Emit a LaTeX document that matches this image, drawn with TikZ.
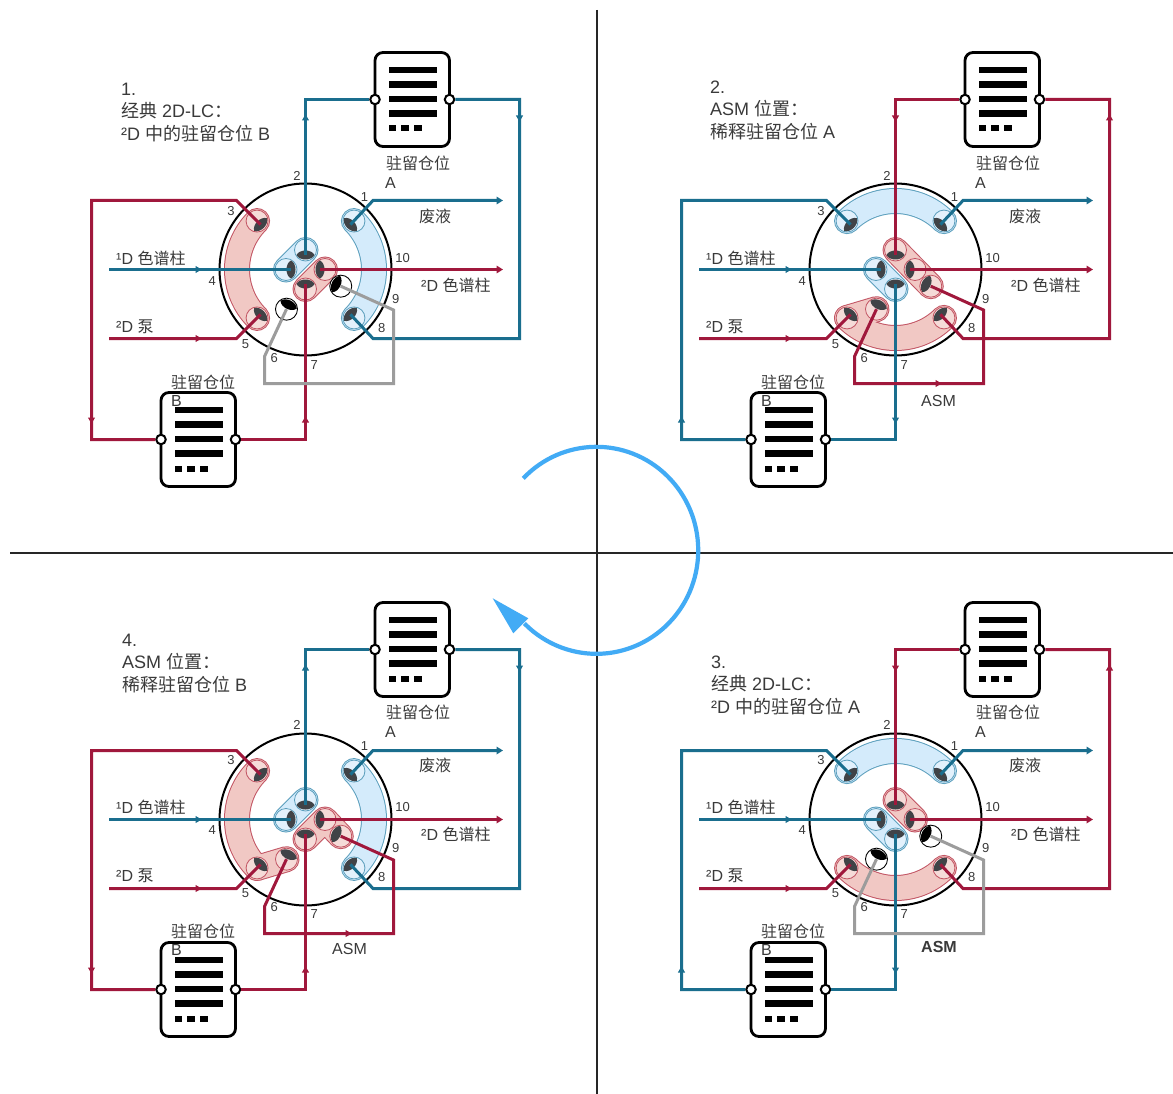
\documentclass[tikz,border=0pt]{standalone}
\usepackage{fontspec}
\setmainfont{Liberation Sans}
\newfontfamily\cjk{Noto Sans CJK SC}
\usetikzlibrary{arrows.meta}
\definecolor{pblue}{HTML}{1A6E8E}
\definecolor{pred}{HTML}{A0183C}
\definecolor{bfill}{HTML}{D4EBFB}
\definecolor{bedge}{HTML}{5C9FBD}
\definecolor{rfill}{HTML}{F1C8C4}
\definecolor{redge}{HTML}{C25463}
\definecolor{lensc}{HTML}{404347}
\definecolor{pgray}{HTML}{9C9C9C}
\definecolor{txt}{HTML}{3A3A3A}
\definecolor{bigarrow}{HTML}{42ABF5}
\newcommand\zh[1]{{\cjk #1}}
\tikzset{
  pipe/.style={line width=3,line join=miter},
  pipeend/.style={pipe,-{Triangle[length=6.5pt,width=7.5pt]}},
  lab/.style={font=\fontsize{16}{19}\selectfont,text=txt,inner sep=0pt,anchor=west},
  num/.style={font=\fontsize{13}{15}\selectfont,text=txt,inner sep=0pt},
  title/.style={font=\fontsize{18}{22.5}\selectfont,text=txt,inner sep=0pt,anchor=north west,align=left},
  colbody/.style={draw=black,line width=2.8,rounded corners=8pt,minimum width=74.5pt,minimum height=94pt,inner sep=0pt,outer sep=0pt},
  colport/.style={circle,draw=black,fill=white,line width=2,minimum size=9.5pt,inner sep=0pt},
  axis/.style={line width=1.6,draw=black!85},
}
% groove helpers: edge pass and fill pass are separate, so that joined grooves read as one shape
\newcommand\arcpass[4]{\draw[#1,line width=#2,line cap=round] (c) ++(#3:68.5) arc[start angle=#3,end angle=#4,radius=68.5];}
\newcommand\slotpass[3]{\draw[#1,line width=#2,line cap=round,line join=round] #3;}
\newcommand\arcgroove[4]{\arcpass{#2}{26}{#3}{#4}\arcpass{#1}{24}{#3}{#4}}
\newcommand\slot[3]{\slotpass{#2}{26}{#3}\slotpass{#1}{24}{#3}}
\newcommand\lensat[3]{\fill[#3,shift={(L#1)},rotate={90-(#2)}] (-9,0) .. controls (-6,6) and (6,6) .. (9,0) .. controls (6,-6) and (-6,-6) .. cycle;}
\newcommand\portset[1]{\foreach \n/\k in {#1}{
  \edef\ang{\csname pang\n\endcsname}
  \node[circle,draw=\k,fill=white,fill opacity=.35,draw opacity=1,line width=0.8,minimum size=22pt,inner sep=0pt] (R\n) at (P\n) {};
  \lensat{\n}{\ang}{lensc}}}
\newcommand\portfree{\foreach \n in {6,9}{
  \edef\ang{\csname pang\n\endcsname}
  \node[circle,draw=black,fill=white,line width=0.9,minimum size=22pt,inner sep=0pt] (R\n) at (P\n) {};
  \lensat{\n}{\ang}{black}}}
\newcommand\mk[4]{\fill[#1,shift={(#2,#3)},rotate=#4] (-2.5,-3.6)--(3.8,0)--(-2.5,3.6)--cycle;}
\newcommand\colbox[3]{% name, left, top
  \node[colbody] (#1) at (#2+37.25,#3+47) {};
  \foreach \yy in {17.7,32,46.7,61}{\fill[black] (#2+13.5,#3+\yy-3.2) rectangle (#2+61.5,#3+\yy+3.2);}
  \foreach \xx in {13.5,26,39}{\fill[black] (#2+\xx,#3+73) rectangle (#2+\xx+7.5,#3+79);}
  \node[colport] (#1l) at (#1.west) {};
  \node[colport] (#1r) at (#1.east) {};}
\newcommand\valvecoords{%
  \coordinate (c) at (305.5,269.5);
  \foreach \n/\r/\a in {1/68.5/-45,3/68.5/225,5/68.5/135,8/68.5/45,2/19.5/-90,4/19.5/180,10/19.5/0,7/19.5/90,6/44/115.6,9/39/25.3}{
    \expandafter\xdef\csname pang\n\endcsname{\a}
    \coordinate (P\n) at ([shift={(\a:\r)}]c);
    \coordinate (L\n) at ([shift={({\a}:{\r-5})}]c);
  }
  \draw[black,line width=2] (c) circle[radius=86];
  \coordinate (b8a) at (519.5,338.5);
  \coordinate (b8b) at (373,338.5);
  \coordinate (b1a) at (373,200.5);
  \coordinate (wst) at (503,200.5);
  \coordinate (b3a) at (236.5,200.5);
  \coordinate (b3b) at (91.5,200.5);
  \coordinate (b3c) at (91.5,439.5);
  \coordinate (d1s) at (109,269.5);
  \coordinate (d2e) at (503,269.5);
  \coordinate (pu1) at (109,338.5);
  \coordinate (pu2) at (236.5,338.5);
  \coordinate (as1) at (264.5,356.5);
  \coordinate (as2) at (264.5,383.5);
  \coordinate (as3) at (393.5,383.5);
  \coordinate (as4) at (393.5,310);
}
% #1 top colour, #2 bottom colour, #3 asm colour, #4 direction (1 or -1)
\newcommand\plumbing[4]{%
  \draw[pipe,#1] (Al.west) -| (L2);
  \draw[pipe,#1] (Ar.east) -| (b8a) -- (b8b) -- (L8);
  \draw[pipeend,pblue] (L1) -- (b1a) -- (wst);
  \draw[pipe,#2] (L3) -- (b3a) -- (b3b) -- (b3c) -- (Bl.west);
  \draw[pipe,#2] (Br.east) -| (L7);
  \draw[pipe,pblue] (d1s) -- (L4);
  \draw[pipeend,pred] (L10) -- (d2e);
  \draw[pipe,pred] (pu1) -- (pu2) -- (L5);
  \draw[pipe,#3] (P6) -- (as1) -- (as2) -- (as3) -- (as4) -- (P9);
  \mk{pblue}{198}{269.5}{0}
  \mk{pred}{198}{338.5}{0}
  \mk{#1}{305.5}{118}{90*#4}
  \mk{#1}{519.5}{118}{-90*#4}
  \mk{#2}{91.5}{420}{-90*#4}
  \mk{#2}{305.5}{420}{90*#4}
  \node[lab] (labA) at (386,163) {\zh{驻留仓位}};
  \node[lab] (labAx) at (385,183) {A};
  \node[lab] (labB) at (171,382) {\zh{驻留仓位}};
  \node[lab] (labBx) at (171,401) {B};
  \node[lab] (labw) at (419,216.5) {\zh{废液}};
  \node[lab] (lab1d) at (116,258) {¹D \zh{色谱柱}};
  \node[lab] (lab2d) at (421,285) {²D \zh{色谱柱}};
  \node[lab] (labp) at (116,327) {²D \zh{泵}};
  \foreach \n/\x/\y in {1/364.5/197,2/297/176,3/231/211,4/212.3/281.5,5/245.5/344.3,6/274.3/358.3,7/314.3/365,8/381.7/327.7,9/395.7/299.3,10/402.7/258.3}{
    \node[num] (n\n) at (\x,\y) {\n};}
}
\begin{document}
\begin{tikzpicture}[x=1pt,y=-1pt]
\useasboundingbox (0,0) rectangle (1173,1094);
\fill[white] (0,0) rectangle (1173,1094);
% panel 1
\begin{scope}[name prefix=a-]
  \valvecoords
  \arcgroove{rfill}{redge}{225}{135}
  \arcgroove{bfill}{bedge}{-45}{45}
  \slot{bfill}{bedge}{(P2) -- (P4)}
  \slot{rfill}{redge}{(P10) -- (P7)}
  \portset{1/bedge,8/bedge,2/bedge,4/bedge,3/redge,5/redge,10/redge,7/redge}
  \portfree
  \colbox{A}{375}{52.5}
  \colbox{B}{161}{392.5}
  \plumbing{pblue}{pred}{pgray}{1}
\end{scope}
% panel 2
\begin{scope}[shift={(590,0)},name prefix=b-]
  \valvecoords
  \arcgroove{bfill}{bedge}{225}{315}
  \arcpass{redge}{26}{135}{45}
  \slotpass{redge}{26}{(P5) -- (P6)}
  \arcpass{rfill}{24}{135}{45}
  \slotpass{rfill}{24}{(P5) -- (P6)}
  \slot{rfill}{redge}{(P2) -- (P9)}
  \slot{bfill}{bedge}{(P4) -- (P7)}
  \portset{1/bedge,3/bedge,4/bedge,7/bedge,2/redge,10/redge,9/redge,5/redge,6/redge,8/redge}
  \colbox{A}{375}{52.5}
  \colbox{B}{161}{392.5}
  \plumbing{pred}{pblue}{pred}{-1}
  \mk{pred}{348}{383.5}{0}
  \node[lab] (asm) at (331,401) {ASM};
\end{scope}
% panel 3
\begin{scope}[shift={(590,550)},name prefix=c-,lab/.append style={yshift=1pt},num/.append style={yshift=1pt}]
  \valvecoords
  \arcgroove{bfill}{bedge}{225}{315}
  \arcgroove{rfill}{redge}{135}{45}
  \slot{rfill}{redge}{(P2) -- (P10)}
  \slot{bfill}{bedge}{(P4) -- (P7)}
  \portset{1/bedge,3/bedge,4/bedge,7/bedge,2/redge,10/redge,5/redge,8/redge}
  \portfree
  \colbox{A}{375}{52.5}
  \colbox{B}{161}{392.5}
  \plumbing{pred}{pblue}{pgray}{-1}
  \node[lab,font=\fontsize{16}{19}\selectfont\bfseries] (asm) at (331,398) {ASM};
\end{scope}
% panel 4
\begin{scope}[shift={(0,550)},name prefix=d-,lab/.append style={yshift=1pt},num/.append style={yshift=1pt}]
  \valvecoords
  \arcpass{redge}{26}{225}{135}
  \slotpass{redge}{26}{(P5) -- (P6)}
  \arcpass{rfill}{24}{225}{135}
  \slotpass{rfill}{24}{(P5) -- (P6)}
  \arcgroove{bfill}{bedge}{-45}{45}
  \slot{bfill}{bedge}{(P2) -- (P4)}
  \slot{rfill}{redge}{(P7) -- (P10) -- (P9)}
  \portset{1/bedge,8/bedge,2/bedge,4/bedge,3/redge,5/redge,6/redge,10/redge,7/redge,9/redge}
  \colbox{A}{375}{52.5}
  \colbox{B}{161}{392.5}
  \plumbing{pblue}{pred}{pred}{1}
  \mk{pred}{348}{383.5}{0}
  \node[lab] (asm) at (332,400) {ASM};
\end{scope}
% axes
\coordinate (vt) at (597,10);
\coordinate (vb) at (597,1094);
\coordinate (hl) at (10,553);
\coordinate (hr) at (1173,553);
\draw[axis] (vt) -- (vb);
\draw[axis] (hl) -- (hr);
% big arrow
\coordinate (bc) at (597,549.7);
\draw[bigarrow,line width=4.2] (bc) ++(224:102.6) arc[start angle=224,end angle=495,x radius=101.8,y radius=103.5];
\fill[bigarrow] (492.7,598.3) -- (528.3,618.3) -- (513.3,633.3) -- cycle;
% titles
\node[title] (t1) at (121,82.5) {1.\\\zh{经典} 2D-LC\zh{：}\\²D \zh{中的驻留仓位} B};
\node[title] (t2) at (710,80.5) {2.\\ASM \zh{位置：}\\\zh{稀释驻留仓位} A};
\node[title] (t3) at (711,655.5) {3.\\\zh{经典} 2D-LC\zh{：}\\²D \zh{中的驻留仓位} A};
\node[title] (t4) at (122,633.5) {4.\\ASM \zh{位置：}\\\zh{稀释驻留仓位} B};
\end{tikzpicture}
\end{document}
